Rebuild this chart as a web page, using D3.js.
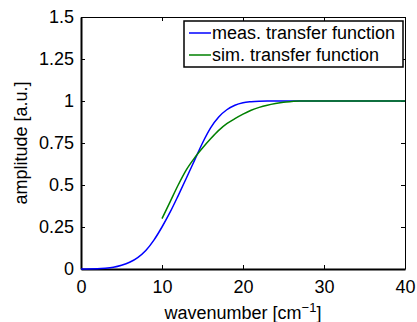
<!DOCTYPE html>
<html>
<head>
<meta charset="utf-8">
<script src="https://cdn.jsdelivr.net/npm/d3@7"></script>
<style>
  body { margin: 0; background: #fff; }
  svg { font-family: "Liberation Sans", Arial, sans-serif; }
</style>
</head>
<body>
<svg id="chart" width="417" height="322"></svg>
<script>
// DATA
const measWave = [0, 2, 3, 4, 5, 6, 7, 8, 9, 10, 11, 12, 13, 14, 15, 16, 17, 18, 19, 20, 21, 22, 23, 24, 26, 30, 40];
const measValues = [0, 0.001, 0.004, 0.01, 0.022, 0.04, 0.068, 0.11, 0.172, 0.25, 0.338, 0.437, 0.54, 0.645, 0.75, 0.84, 0.905, 0.948, 0.975, 0.99, 0.996, 0.999, 1, 1, 1, 1, 1];
const simWave = [10, 11, 12, 13, 14, 15, 16, 17, 18, 19, 20, 21, 22, 23, 24, 25, 26, 27, 30, 40];
const simValues = [0.30, 0.40, 0.50, 0.59, 0.66, 0.72, 0.775, 0.825, 0.865, 0.895, 0.922, 0.945, 0.962, 0.975, 0.985, 0.993, 0.997, 1, 1, 1];
const xTicks = [0, 10, 20, 30, 40];
const yTicks = [0, 0.25, 0.5, 0.75, 1, 1.25, 1.5];
const seriesNames = ["meas. transfer function", "sim. transfer function"];
const seriesColors = ["#0000ff", "#008000"];

const margin = { top: 17, right: 12, bottom: 53, left: 81 },
    width = 417 - margin.left - margin.right,
    height = 322 - margin.top - margin.bottom;

const svg = d3.select('#chart');
const g = svg.append('g')
    .attr('transform', `translate(${margin.left},${margin.top})`);

const x = d3.scaleLinear().domain([0, 40]).range([0, width]);
const y = d3.scaleLinear().domain([0, 1.5]).range([height, 0]);

// axes (ticks point inward, box on all four sides)
const tickLen = 4;
const bottomAxis = g.append('g')
    .attr('transform', `translate(0,${height})`)
    .call(d3.axisBottom(x).tickValues(xTicks).tickSizeInner(-tickLen).tickSizeOuter(0).tickPadding(11).tickFormat(d3.format('d')));
const leftAxis = g.append('g')
    .call(d3.axisLeft(y).tickValues(yTicks).tickSizeInner(-tickLen).tickSizeOuter(0).tickPadding(7).tickFormat(d => String(d)));
g.append('g')
    .call(d3.axisTop(x).tickValues(xTicks).tickSizeInner(-tickLen).tickSizeOuter(0).tickFormat(''));
g.append('g')
    .attr('transform', `translate(${width},0)`)
    .call(d3.axisRight(y).tickValues(yTicks).tickSizeInner(-tickLen).tickSizeOuter(0).tickFormat(''));

g.selectAll('.domain').attr('stroke', '#000').attr('stroke-width', 1);
bottomAxis.select('.domain').attr('stroke-width', 2);
leftAxis.select('.domain').attr('stroke-width', 2);
g.selectAll('.tick line').attr('stroke', '#000');
g.selectAll('.tick text').attr('font-size', 18).attr('fill', '#000').attr('font-family', '"Liberation Sans", Arial, sans-serif');

// lines
const line = d3.line()
    .x(d => x(d[0]))
    .y(d => y(d[1]))
    .curve(d3.curveMonotoneX);

const measData = measWave.map((w, i) => [w, measValues[i]]);
const simData = simWave.map((w, i) => [w, simValues[i]]);

g.append('path')
    .datum(measData)
    .attr('fill', 'none')
    .attr('stroke', seriesColors[0])
    .attr('stroke-width', 1.5)
    .attr('d', line);

g.append('path')
    .datum(simData)
    .attr('fill', 'none')
    .attr('stroke', seriesColors[1])
    .attr('stroke-width', 1.5)
    .attr('d', line);

// axis labels
svg.append('text')
    .attr('x', margin.left + width / 2)
    .attr('y', 319)
    .attr('text-anchor', 'middle')
    .attr('font-size', 18)
    .html('wavenumber [cm<tspan dy="-7" font-size="13">−1</tspan><tspan dy="7">]</tspan>');

svg.append('text')
    .attr('transform', `translate(27,${margin.top + height / 2}) rotate(-90)`)
    .attr('text-anchor', 'middle')
    .attr('font-size', 18)
    .text('amplitude [a.u.]');

// legend
const legend = svg.append('g')
    .attr('transform', 'translate(184,21)');
legend.append('rect')
    .attr('width', 219)
    .attr('height', 46)
    .attr('fill', '#fff')
    .attr('stroke', '#000')
    .attr('stroke-width', 1.5);
seriesNames.forEach((name, i) => {
    const row = legend.append('g').attr('transform', `translate(0,${12 + i * 22})`);
    row.append('line')
        .attr('x1', 5).attr('x2', 27)
        .attr('y1', 0).attr('y2', 0)
        .attr('stroke', seriesColors[i])
        .attr('stroke-width', 1.5);
    row.append('text')
        .attr('x', 28)
        .attr('y', 6)
        .attr('font-size', 18)
        .text(name);
});
</script>
</body>
</html>
